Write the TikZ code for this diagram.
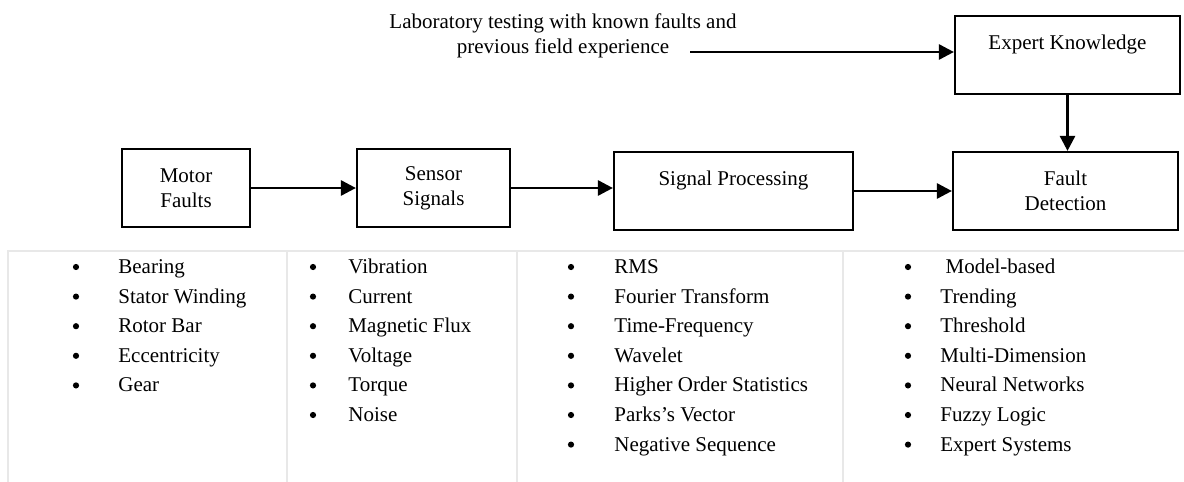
\documentclass[tikz,border=0pt]{standalone}
\usepackage{fontspec}
\setmainfont{Liberation Serif}
\usetikzlibrary{arrows.meta}

\begin{document}
\begin{tikzpicture}[x=1pt,y=-1pt,scale=0.5,
    font=\fontsize{10.5}{12.6}\selectfont,
    box/.style={draw,line width=1.1pt,align=center,minimum height=39pt,inner sep=0pt},
    arr/.style={line width=1.4pt,-{Triangle[length=7.5pt,width=7.5pt]}},
    tabline/.style={draw=black!9,line width=0.8pt},
    item/.style={anchor=west,inner sep=0pt,text height=0.7em,text depth=0.25em},
    bul/.style={circle,fill,inner sep=0pt,minimum size=3.1pt}]
    \useasboundingbox (0,0) rectangle (1184,482);
    % blocks
    \node[box,minimum width=64pt] (motor) at (186,188) {Motor\\Faults};
    \node[box,minimum width=76.5pt] (sensor) at (433.5,188) {Sensor\\Signals};
    \node[box,minimum width=119.5pt] (proc) at (733.5,191) {Signal Processing\\ \mbox{}};
    \node[box,minimum width=112.5pt] (fault) at (1065.5,191) {Fault\\Detection};
    \node[box,minimum width=112.5pt] (expert) at (1067.5,55) {Expert Knowledge\\ \mbox{}};
    \node[align=center] (lab) at (563,35.5) {Laboratory testing with known faults and\\previous field experience};
    \coordinate (labend) at (690,52);
    % arrows
    \draw[arr] (motor.east) -- (sensor.west);
    \draw[arr] (sensor.east) -- (sensor.east -| proc.west);
    \draw[arr] (proc.east) -- (fault.west);
    \draw[arr] (expert.south) -- (expert.south |- fault.north);
    \draw[arr] (labend) -- (labend -| expert.west);
    % table
    \draw[tabline] (1184,251) -- (8,251) -- (8,482);
    \foreach \x in {287,517,843} \draw[tabline] (\x,251) -- (\x,482);
    % lists
    \foreach \t [count=\i] in {Bearing,Stator Winding,Rotor Bar,Eccentricity,Gear}{
      \node[bul] (bmf\i) at (76,{267+29.6*(\i-1)}) {};
      \node[item] (mf\i) at (118,{269+29.6*(\i-1)}) {\t};
    }
    \foreach \t [count=\i] in {Vibration,Current,Magnetic Flux,Voltage,Torque,Noise}{
      \node[bul] (bss\i) at (313,{267+29.6*(\i-1)}) {};
      \node[item] (ss\i) at (348,{269+29.6*(\i-1)}) {\t};
    }
    \foreach \t [count=\i] in {RMS,Fourier Transform,Time-Frequency,Wavelet,
        Higher Order Statistics,Parks's Vector,Negative Sequence}{
      \node[bul] (bsp\i) at (571,{267+29.6*(\i-1)}) {};
      \node[item] (sp\i) at (614,{269+29.6*(\i-1)}) {\t};
    }
    \foreach \t [count=\i] in {{\ Model-based},Trending,Threshold,Multi-Dimension,
        Neural Networks,Fuzzy Logic,Expert Systems}{
      \node[bul] (bfd\i) at (908,{267+29.6*(\i-1)}) {};
      \node[item] (fd\i) at (940,{269+29.6*(\i-1)}) {\t};
    }
\end{tikzpicture}
\end{document}
